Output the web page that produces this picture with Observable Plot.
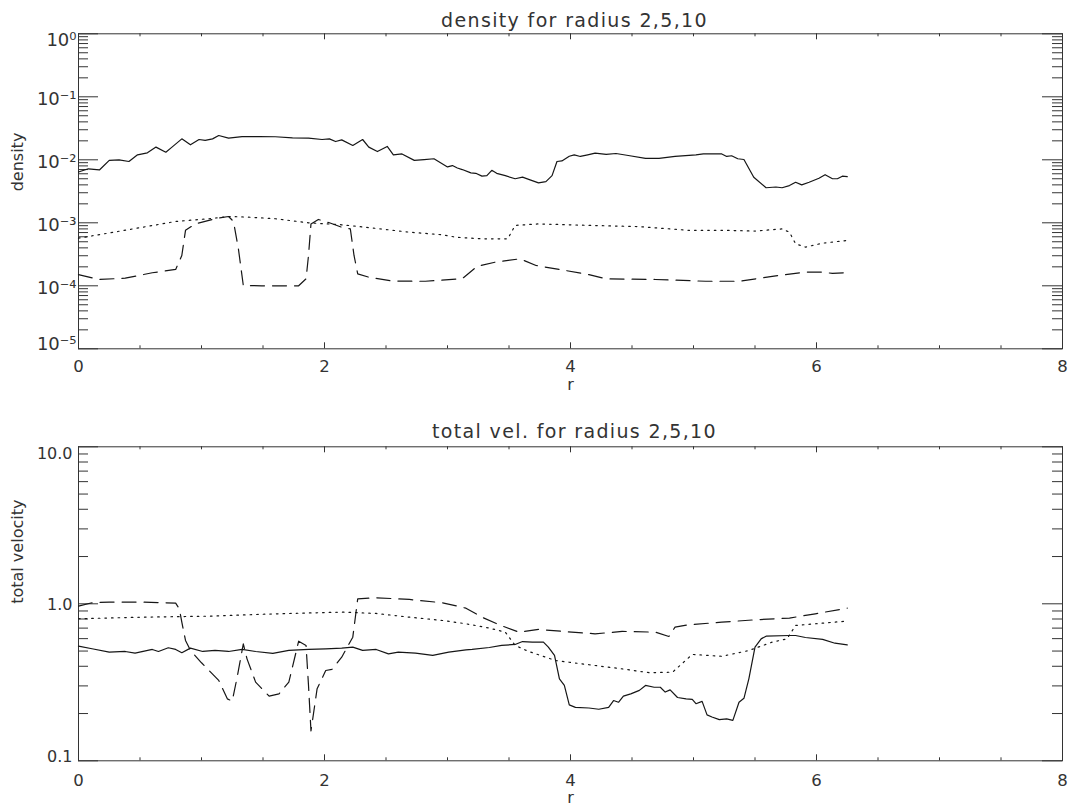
<!DOCTYPE html>
<html>
<head>
<meta charset="utf-8">
<script src="https://cdn.jsdelivr.net/npm/d3@7"></script>
<script src="https://cdn.jsdelivr.net/npm/@observablehq/plot@0.6"></script>
<style>
  html, body { margin: 0; padding: 0; background: #fff; }
  #chart svg { display: block; }
</style>
</head>
<body>
<div id="chart"></div>
<script>
// ---------------- data ----------------
// density profiles (solid: radius 2, dotted: radius 5, dashed: radius 10)
const rDens2 = [0, 0.08, 0.17, 0.25, 0.33, 0.41, 0.48, 0.56, 0.63, 0.71, 0.76, 0.84, 0.91, 0.98, 1.03, 1.09, 1.14, 1.22, 1.33, 1.47, 1.60, 1.74, 1.87, 1.98, 2.04, 2.09, 2.14, 2.23, 2.31, 2.36, 2.43, 2.51, 2.56, 2.63, 2.73, 2.81, 2.89, 3.00, 3.04, 3.08, 3.12, 3.19, 3.23, 3.28, 3.32, 3.36, 3.40, 3.47, 3.55, 3.61, 3.66, 3.74, 3.80, 3.85, 3.89, 3.93, 3.99, 4.03, 4.08, 4.14, 4.20, 4.29, 4.37, 4.47, 4.61, 4.72, 4.85, 5.02, 5.08, 5.23, 5.27, 5.31, 5.36, 5.41, 5.49, 5.59, 5.67, 5.72, 5.78, 5.83, 5.88, 5.94, 6.02, 6.07, 6.13, 6.17, 6.21, 6.25];
const dens2 = [0.0064, 0.0072, 0.0069, 0.0098, 0.0100, 0.0094, 0.0120, 0.0129, 0.0159, 0.0132, 0.0159, 0.0215, 0.0173, 0.0210, 0.0203, 0.0215, 0.0243, 0.0221, 0.0234, 0.0234, 0.0232, 0.0223, 0.0221, 0.0210, 0.0215, 0.0195, 0.0207, 0.0169, 0.0210, 0.0159, 0.0135, 0.0163, 0.0120, 0.0124, 0.0098, 0.0101, 0.0104, 0.0077, 0.0081, 0.0074, 0.0070, 0.0062, 0.0061, 0.0055, 0.0056, 0.0068, 0.0061, 0.0056, 0.0050, 0.0053, 0.0049, 0.0043, 0.0045, 0.0056, 0.0094, 0.0096, 0.0114, 0.0120, 0.0113, 0.0120, 0.0128, 0.0122, 0.0126, 0.0117, 0.0105, 0.0105, 0.0113, 0.0120, 0.0124, 0.0124, 0.0113, 0.0116, 0.0104, 0.0101, 0.0053, 0.0036, 0.0037, 0.0036, 0.0039, 0.0044, 0.0040, 0.0044, 0.0051, 0.0058, 0.0050, 0.0050, 0.0055, 0.0054];

const rDens5 = [0, 0.25, 0.52, 0.79, 1.06, 1.22, 1.38, 1.60, 1.87, 2.14, 2.41, 2.69, 2.96, 3.07, 3.28, 3.49, 3.55, 3.74, 4.15, 4.56, 4.96, 5.23, 5.50, 5.72, 5.78, 5.83, 5.91, 6.05, 6.25];
const dens5 = [0.00057, 0.00069, 0.00085, 0.00105, 0.00116, 0.00126, 0.00123, 0.00116, 0.00100, 0.00093, 0.00082, 0.00071, 0.000645, 0.00059, 0.000557, 0.000557, 0.00091, 0.00096, 0.00091, 0.00087, 0.00076, 0.00076, 0.00074, 0.00080, 0.00071, 0.000464, 0.000411, 0.000475, 0.000525];

const rDens10 = [0, 0.17, 0.38, 0.60, 0.79, 0.84, 0.87, 0.95, 1.11, 1.22, 1.26, 1.30, 1.34, 1.49, 1.79, 1.85, 1.87, 1.89, 1.95, 2.04, 2.14, 2.21, 2.24, 2.27, 2.36, 2.55, 2.82, 3.12, 3.24, 3.39, 3.59, 3.72, 3.96, 4.15, 4.29, 4.69, 5.10, 5.37, 5.64, 5.91, 6.05, 6.13, 6.25];
const dens10 = [0.000150, 0.000126, 0.000132, 0.000161, 0.000182, 0.000303, 0.00076, 0.00096, 0.00116, 0.00126, 0.00105, 0.000386, 0.000101, 0.000100, 0.000100, 0.000129, 0.000303, 0.00096, 0.00113, 0.00100, 0.00085, 0.00080, 0.000303, 0.000155, 0.000137, 0.000119, 0.000118, 0.000130, 0.000203, 0.000238, 0.000268, 0.000210, 0.000175, 0.000150, 0.000129, 0.000126, 0.000118, 0.000118, 0.000141, 0.000165, 0.000165, 0.000157, 0.000162];

// total velocity profiles (same line styles)
const rVel2 = [0, 0.11, 0.25, 0.38, 0.46, 0.60, 0.65, 0.73, 0.79, 0.84, 0.91, 1.01, 1.11, 1.22, 1.33, 1.44, 1.58, 1.71, 1.87, 2.01, 2.14, 2.23, 2.31, 2.42, 2.52, 2.60, 2.74, 2.88, 3.01, 3.15, 3.20, 3.34, 3.44, 3.55, 3.61, 3.69, 3.78, 3.82, 3.87, 3.91, 3.95, 3.99, 4.04, 4.15, 4.23, 4.31, 4.35, 4.39, 4.43, 4.49, 4.56, 4.61, 4.68, 4.73, 4.77, 4.81, 4.87, 4.94, 4.99, 5.02, 5.07, 5.11, 5.15, 5.21, 5.27, 5.32, 5.37, 5.41, 5.45, 5.50, 5.55, 5.59, 5.78, 5.83, 5.91, 6.05, 6.15, 6.25];
const vel2 = [0.537, 0.517, 0.492, 0.497, 0.485, 0.512, 0.497, 0.525, 0.512, 0.488, 0.522, 0.497, 0.505, 0.497, 0.512, 0.497, 0.483, 0.505, 0.512, 0.517, 0.522, 0.530, 0.505, 0.512, 0.480, 0.492, 0.485, 0.469, 0.492, 0.509, 0.512, 0.527, 0.543, 0.551, 0.575, 0.570, 0.570, 0.530, 0.469, 0.333, 0.302, 0.227, 0.219, 0.217, 0.213, 0.219, 0.242, 0.236, 0.258, 0.267, 0.281, 0.302, 0.294, 0.294, 0.274, 0.283, 0.253, 0.248, 0.246, 0.231, 0.239, 0.196, 0.190, 0.183, 0.185, 0.181, 0.236, 0.250, 0.333, 0.530, 0.598, 0.622, 0.628, 0.628, 0.610, 0.593, 0.561, 0.548];

const rVel5 = [0, 0.52, 1.06, 1.60, 2.14, 2.42, 2.69, 2.96, 3.15, 3.34, 3.47, 3.55, 3.66, 3.88, 4.15, 4.42, 4.64, 4.83, 4.99, 5.23, 5.45, 5.64, 5.76, 5.83, 6.05, 6.25];
const vel5 = [0.803, 0.822, 0.834, 0.863, 0.885, 0.868, 0.822, 0.783, 0.746, 0.700, 0.660, 0.543, 0.497, 0.435, 0.409, 0.385, 0.364, 0.367, 0.476, 0.463, 0.504, 0.570, 0.598, 0.728, 0.753, 0.776];

const rVel10 = [0, 0.11, 0.25, 0.52, 0.79, 0.82, 0.84, 0.87, 0.91, 1.00, 1.14, 1.21, 1.25, 1.29, 1.34, 1.37, 1.44, 1.55, 1.63, 1.71, 1.79, 1.85, 1.87, 1.89, 1.94, 2.01, 2.06, 2.14, 2.23, 2.27, 2.42, 2.69, 2.96, 3.15, 3.28, 3.42, 3.58, 3.74, 4.01, 4.20, 4.42, 4.69, 4.80, 4.85, 4.96, 5.23, 5.50, 5.78, 5.99, 6.25];
const vel10 = [0.966, 1.015, 1.025, 1.025, 1.010, 0.929, 0.764, 0.584, 0.505, 0.421, 0.325, 0.248, 0.240, 0.341, 0.556, 0.446, 0.317, 0.258, 0.267, 0.317, 0.578, 0.543, 0.302, 0.155, 0.288, 0.376, 0.382, 0.457, 0.613, 1.076, 1.092, 1.066, 1.015, 0.938, 0.822, 0.735, 0.660, 0.687, 0.660, 0.644, 0.667, 0.660, 0.619, 0.710, 0.735, 0.764, 0.791, 0.811, 0.863, 0.938];

// axis ticks
const xMajors = [0, 2, 4, 6, 8];
const xMinors = [0.5, 1, 1.5, 2.5, 3, 3.5, 4.5, 5, 5.5, 6.5, 7, 7.5];
const densMajors = [1e-5, 1e-4, 1e-3, 1e-2, 1e-1, 1];
const velMajors = [0.1, 1, 10];
const minorSteps = [2, 3, 4, 5, 6, 7, 8, 9];
const densMinors = densMajors.slice(0, -1).flatMap(m => minorSteps.map(k => k * m));
const velMinors = velMajors.slice(0, -1).flatMap(m => minorSteps.map(k => k * m));

// ---------------- layout ----------------
const FONT = "'DejaVu Sans', 'Liberation Sans', sans-serif";
const W = 1074, H = 405, ML = 78, MR = 12;
const FW = W - ML - MR;
const INK = "#333";
const LINE = "#161616";

const rows = (rs, vs) => rs.map((r, i) => ({r, v: vs[i]}));
const SUP = {"-": "\u207B", "0": "\u2070", "1": "\u00B9", "2": "\u00B2", "3": "\u00B3", "4": "\u2074", "5": "\u2075"};
const powerLabel = v => "10" + String(Math.round(Math.log10(v))).split("").map(c => SUP[c]).join("");

function panel(o) {
  const FH = H - o.marginTop - o.marginBottom;
  const yT = o.yTicks;
  const yTxt = {tickSize: 0, tickPadding: o.yPad, tickFormat: o.yFormat, fontSize: o.yFont, label: null};
  const svg = Plot.plot({
    width: W,
    height: H,
    marginLeft: ML,
    marginRight: MR,
    marginTop: o.marginTop,
    marginBottom: o.marginBottom,
    style: {fontFamily: FONT, color: INK, background: "#fff"},
    x: {domain: [0, 8]},
    y: {type: "log", domain: o.yDomain},
    marks: [
      // inward ticks on all four sides
      Plot.tickY(yT, {y: d => d, insetRight: FW - 20, stroke: INK}),
      Plot.tickY(yT, {y: d => d, insetLeft: FW - 20, stroke: INK}),
      Plot.tickY(o.yMinor, {y: d => d, insetRight: FW - 10, stroke: INK}),
      Plot.tickY(o.yMinor, {y: d => d, insetLeft: FW - 10, stroke: INK}),
      Plot.tickX(xMajors, {x: d => d, insetTop: FH - 6, stroke: INK}),
      Plot.tickX(xMajors, {x: d => d, insetBottom: FH - 6, stroke: INK}),
      Plot.tickX(xMinors, {x: d => d, insetTop: FH - 3, stroke: INK}),
      Plot.tickX(xMinors, {x: d => d, insetBottom: FH - 3, stroke: INK}),
      Plot.frame({stroke: INK}),
      // tick labels
      Plot.axisX(xMajors, {tickSize: 0, tickPadding: o.xPad, tickFormat: d => String(d), fontSize: 16.5, label: null}),
      Plot.axisY(yT.slice(1, -1), {...yTxt, dy: o.dyMid}),
      Plot.axisY([yT[0]], {...yTxt, dy: o.dyLow}),
      Plot.axisY([yT[yT.length - 1]], {...yTxt, dy: o.dyHigh}),
      // profiles
      Plot.line(rows(o.r2, o.v2), {x: "r", y: "v", stroke: LINE, strokeWidth: 1.2}),
      Plot.line(rows(o.r5, o.v5), {x: "r", y: "v", stroke: LINE, strokeWidth: 1.2, strokeDasharray: "1.6,5"}),
      Plot.line(rows(o.r10, o.v10), {x: "r", y: "v", stroke: LINE, strokeWidth: 1.2, strokeDasharray: "14,8"}),
      // titles
      Plot.text([o.title], {text: d => d, frameAnchor: "top", lineAnchor: "bottom", dy: o.titleDy, dx: 4, fontSize: 19}),
      Plot.text([o.yLabel], {text: d => d, frameAnchor: "left", rotate: -90, dx: -61, fontSize: 16}),
      Plot.text(["r"], {text: d => d, frameAnchor: "bottom", dy: o.rDy, fontSize: 16})
    ]
  });
  // the panel title uses slightly spread letters
  svg.querySelectorAll("text").forEach(t => {
    if (t.textContent === o.title) t.setAttribute("letter-spacing", "1.35");
  });
  return svg;
}

const chart = document.getElementById("chart");

chart.appendChild(panel({
  title: "density for radius 2,5,10",
  yLabel: "density",
  yDomain: [1e-5, 1],
  yTicks: densMajors,
  yMinor: densMinors,
  yFormat: powerLabel,
  yFont: 18,
  yPad: 2,
  dyMid: 2.5, dyLow: -5, dyHigh: 6,
  xPad: 11.5,
  marginTop: 33.3,
  marginBottom: 56.7,
  titleDy: -7.3,
  rDy: 41.5,
  r2: rDens2, v2: dens2, r5: rDens5, v5: dens5, r10: rDens10, v10: dens10
}));

chart.appendChild(panel({
  title: "total vel. for radius 2,5,10",
  yLabel: "total velocity",
  yDomain: [0.1, 10],
  yTicks: velMajors,
  yMinor: velMinors,
  yFormat: d => d.toFixed(1),
  yFont: 16,
  yPad: 6,
  dyMid: 1, dyLow: -4, dyHigh: 7,
  xPad: 13,
  marginTop: 41.3,
  marginBottom: 49.7,
  titleDy: -8.8,
  rDy: 42,
  r2: rVel2, v2: vel2, r5: rVel5, v5: vel5, r10: rVel10, v10: vel10
}));
</script>
</body>
</html>
